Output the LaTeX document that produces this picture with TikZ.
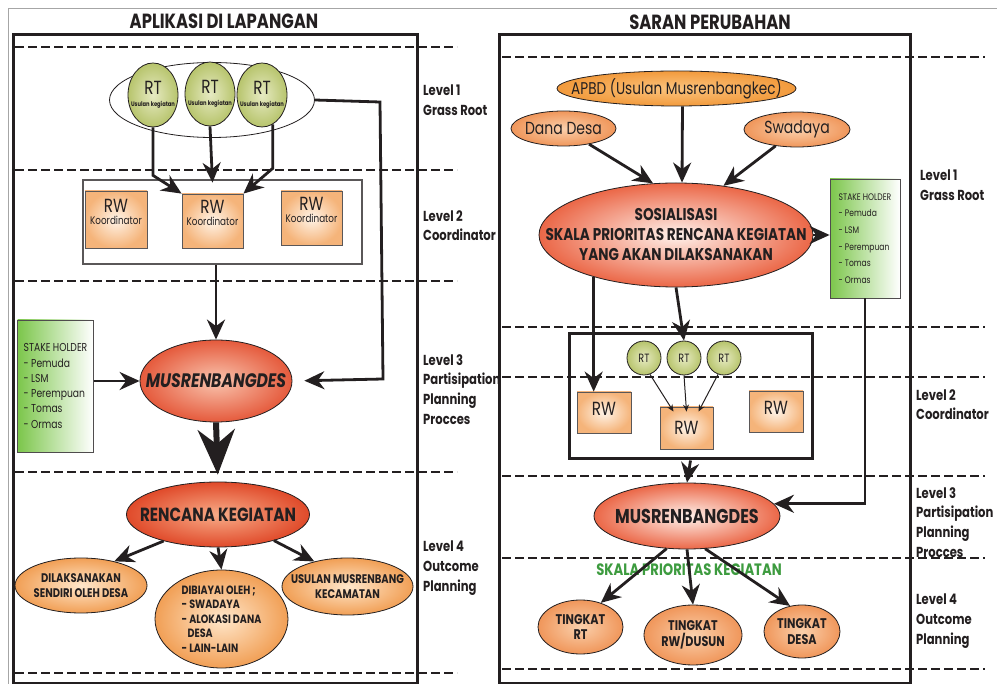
\documentclass[tikz,border=0pt]{standalone}
\usepackage{fontspec}
\setmainfont[FakeStretch=0.8]{Poppins}
\usepackage{xcolor}
\usetikzlibrary{arrows.meta,shapes.geometric}
\definecolor{inkk}{HTML}{231F20}
\definecolor{rtin}{HTML}{E6EAC2}
\definecolor{rtout}{HTML}{B7C46C}
\definecolor{rwin}{HTML}{FFF4E8}
\definecolor{rwout}{HTML}{F5B47A}
\definecolor{musin}{HTML}{F9C4AE}
\definecolor{musout}{HTML}{E55A3C}
\definecolor{rencin}{HTML}{F8AC88}
\definecolor{rencout}{HTML}{E04A2A}
\definecolor{sosin}{HTML}{FFF2EC}
\definecolor{sosout}{HTML}{EB6747}
\definecolor{orgin}{HTML}{FFE7CB}
\definecolor{orgout}{HTML}{F19F55}
\definecolor{apbdin}{HTML}{FBC47E}
\definecolor{apbdout}{HTML}{F29A3C}
\definecolor{tkin}{HTML}{FAD0AC}
\definecolor{tkout}{HTML}{F0965A}
\definecolor{stkgreen}{HTML}{7CC64B}
\definecolor{skalagreen}{HTML}{3D9B3F}

\begin{document}
\begin{tikzpicture}[x=1pt,y=-1pt,>={Stealth[length=20pt,width=18pt]},
  panelframe/.style={draw=inkk,line width=3pt},
  levelguide/.style={draw=inkk,line width=1.4pt,dash pattern=on 9pt off 4pt},
  arr/.style={->,draw=inkk,line width=2.8pt},
  thinarr/.style={-{Stealth[length=7pt,width=6pt]},draw=inkk,line width=1pt},
  bigarr/.style={-{Stealth[length=45pt,width=37pt]},draw=inkk,line width=6pt},
  paneltitle/.style={text=inkk,font=\bfseries\fontsize{20.5}{22}\selectfont},
  lvl/.style={anchor=north west,inner sep=0pt,align=left,text=inkk,font=\bfseries\fontsize{14.5}{19.7}\selectfont},
  ovalnode/.style={ellipse,draw=inkk,line width=0.8pt,inner sep=0pt,align=center,text=inkk},
  rtball/.style={ovalnode,inner color=rtin,outer color=rtout},
  rwcard/.style={rectangle,draw=inkk!75,line width=0.8pt,inner sep=0pt,align=center,text=inkk,inner color=rwin,outer color=rwout},
  stakebox/.style={rectangle,draw=inkk!80,line width=0.8pt,inner xsep=6pt,align=left,text=inkk,left color=stkgreen,right color=white}]
  \useasboundingbox (0,0) rectangle (997,684);
  \draw[gray!70,line width=0.8pt] (997,8) -- (8,8) -- (8,684);
  \draw[panelframe] (13,35) rectangle (417,683);
  \draw[panelframe] (499,35) rectangle (910,683);
  \draw[levelguide] (15,47) -- (457,47);
  \draw[levelguide] (15,170) -- (457,170);
  \draw[levelguide] (15,281) -- (457,281);
  \draw[levelguide] (15,472) -- (457,472);
  \draw[levelguide] (15,673) -- (457,673);
  \draw[levelguide] (502,57) -- (985,57);
  \draw[levelguide] (502,327) -- (985,327);
  \draw[levelguide] (502,377) -- (985,377);
  \draw[levelguide] (502,476) -- (985,476);
  \draw[levelguide] (502,558) -- (985,558);
  \draw[levelguide] (502,669) -- (985,669);

  \node[paneltitle] (titleL) at (224,21) {APLIKASI DI LAPANGAN};
  \node[paneltitle] (titleR) at (710,22) {SARAN PERUBAHAN};

  \node[lvl] (lv1L) at (423,85) {Level 1\\Grass Root};
  \node[lvl] (lv2L) at (423,210) {Level 2\\Coordinator};
  \node[lvl] (lv3L) at (423,354) {Level 3\\Partisipation\\Planning\\Procces};
  \node[lvl] (lv4L) at (423,541) {Level 4\\Outcome\\Planning};
  \node[lvl] (lv1R) at (920,170) {Level 1\\Grass Root};
  \node[lvl] (lv2R) at (916,389) {Level 2\\Coordinator};
  \node[lvl] (lv3R) at (916,487) {Level 3\\Partisipation\\Planning\\Procces};
  \node[lvl] (lv4R) at (916,594) {Level 4\\Outcome\\Planning};

  \node[ovalnode,fill=white,minimum width=205pt,minimum height=75pt] (rtgroup) at (212,100) {};
  \node[rtball,inner xsep=-6pt,minimum width=50pt,minimum height=64pt] (rtA) at (153,95) {\fontsize{19}{16}\selectfont RT\\\bfseries\fontsize{6.5}{7}\selectfont Usulan kegiatan};
  \node[rtball,inner xsep=-6pt,minimum width=50pt,minimum height=64pt] (rtB) at (210,94) {\fontsize{19}{16}\selectfont RT\\\bfseries\fontsize{6.5}{7}\selectfont Usulan kegiatan};
  \node[rtball,inner xsep=-6pt,minimum width=50pt,minimum height=64pt] (rtC) at (262,95) {\fontsize{19}{16}\selectfont RT\\\bfseries\fontsize{6.5}{7}\selectfont Usulan kegiatan};
  \node[draw=inkk!75,line width=1.2pt,minimum width=279pt,minimum height=84pt] (koord) at (222.5,222) {};
  \node[rwcard,minimum width=62pt,minimum height=57pt,text depth=16pt] (rwA) at (116,219.5) {\fontsize{19}{16}\selectfont RW\\\fontsize{11}{12}\selectfont Koordinator};
  \node[rwcard,minimum width=61pt,minimum height=54pt,text depth=16pt] (rwB) at (212.5,221) {\fontsize{19}{16}\selectfont RW\\\fontsize{11}{12}\selectfont Koordinator};
  \node[rwcard,minimum width=61pt,minimum height=54pt,text depth=16pt] (rwC) at (311.5,218) {\fontsize{19}{16}\selectfont RW\\\fontsize{11}{12}\selectfont Koordinator};
  \node[ovalnode,inner xsep=-21pt,inner color=musin,outer color=musout,minimum width=152pt,minimum height=82pt,font=\bfseries\itshape\fontsize{19.5}{20}\selectfont] (musL) at (216,381) {MUSRENBANGDES};
  \node[stakebox,minimum width=73pt,minimum height=132pt,font=\fontsize{11.5}{15.3}\selectfont] (stakeL) at (55.5,386) {STAKE HOLDER\\- Pemuda\\- LSM\\- Perempuan\\- Tomas\\- Ormas};
  \node[ovalnode,inner xsep=-14pt,inner color=rencin,outer color=rencout,minimum width=183pt,minimum height=65pt,font=\bfseries\fontsize{19}{20}\selectfont] (renc) at (218,514.5) {RENCANA KEGIATAN};
  \node[ovalnode,inner xsep=-5pt,inner color=orgin,outer color=orgout,minimum width=132pt,minimum height=55pt,font=\bfseries\fontsize{12.5}{15}\selectfont] (dil) at (81,585.5) {DILAKSANAKAN\\SENDIRI OLEH DESA};
  \node[ovalnode,inner color=orgin,outer color=orgout,minimum width=133pt,minimum height=98pt,align=left,font=\bfseries\fontsize{12}{14.5}\selectfont] (dib) at (221.5,619) {DIBIAYAI OLEH ;\\- SWADAYA\\- ALOKASI DANA\\\hspace*{6pt}DESA\\- LAIN-LAIN};
  \node[ovalnode,inner xsep=-15pt,inner color=orgin,outer color=orgout,minimum width=131pt,minimum height=57pt,font=\bfseries\fontsize{12.5}{15}\selectfont] (usu) at (347.5,586.5) {USULAN MUSRENBANG\\KECAMATAN};

  \node[ovalnode,inner xsep=-21pt,inner color=apbdin,outer color=apbdout,minimum width=239pt,minimum height=35pt,font=\fontsize{17}{18}\selectfont] (apbd) at (676.5,88.5) {APBD (Usulan Musrenbangkec)};
  \node[ovalnode,inner xsep=-2pt,inner color=tkin,outer color=tkout,minimum width=105pt,minimum height=35pt,font=\fontsize{17.5}{18}\selectfont] (dana) at (563.5,128.5) {Dana Desa};
  \node[ovalnode,inner xsep=-2pt,inner color=tkin,outer color=tkout,minimum width=106pt,minimum height=35pt,font=\fontsize{17.5}{18}\selectfont] (swa) at (797,129.5) {Swadaya};
  \node[ovalnode,inner xsep=-34pt,inner color=sosin,outer color=sosout,minimum width=274pt,minimum height=104pt,font=\bfseries\fontsize{17}{20}\selectfont] (sos) at (676,235) {SOSIALISASI\\SKALA PRIORITAS RENCANA KEGIATAN\\YANG AKAN DILAKSANAKAN};
  \node[stakebox,minimum width=70pt,minimum height=119pt,font=\fontsize{9.5}{16.7}\selectfont] (stakeR) at (865,238.5) {STAKE HOLDER\\- Pemuda\\- LSM\\- Perempuan\\- Tomas\\- Ormas};
  \node[draw=inkk,line width=3pt,minimum width=243pt,minimum height=125pt] (rbox) at (690.5,396.5) {};
  \node[rtball,minimum size=34pt,font=\fontsize{12}{12}\selectfont] (rtR1) at (644,358) {RT};
  \node[rtball,minimum size=34pt,font=\fontsize{12}{12}\selectfont] (rtR2) at (684,358) {RT};
  \node[rtball,minimum size=34pt,font=\fontsize{12}{12}\selectfont] (rtR3) at (724,358) {RT};
  \node[rwcard,minimum width=54pt,minimum height=41pt,text depth=8pt,font=\fontsize{19}{18}\selectfont] (rwR1) at (604,412.5) {RW};
  \node[rwcard,minimum width=53pt,minimum height=42pt,font=\fontsize{19}{18}\selectfont] (rwR2) at (686.5,428) {RW};
  \node[rwcard,minimum width=54pt,minimum height=41pt,text depth=8pt,font=\fontsize{19}{18}\selectfont] (rwR3) at (776,411.5) {RW};
  \node[ovalnode,inner xsep=-11pt,inner color=sosin,outer color=sosout,minimum width=186pt,minimum height=66pt,font=\bfseries\fontsize{20}{20}\selectfont] (musR) at (687,516) {MUSRENBANGDES};
  \node[text=skalagreen,font=\bfseries\fontsize{16.5}{16}\selectfont] (skala) at (689,570) {SKALA PRIORITAS KEGIATAN};
  \node[ovalnode,inner color=tkin,outer color=tkout,minimum width=85pt,minimum height=54pt,font=\bfseries\fontsize{14}{15.5}\selectfont] (tRT) at (580.5,627) {TINGKAT\\RT};
  \node[ovalnode,inner color=tkin,outer color=tkout,minimum width=98pt,minimum height=60pt,font=\bfseries\fontsize{14}{15.5}\selectfont] (tRW) at (693,635) {TINGKAT\\RW/DUSUN};
  \node[ovalnode,inner color=tkin,outer color=tkout,minimum width=76pt,minimum height=53pt,font=\bfseries\fontsize{14}{15.5}\selectfont] (tDESA) at (802,631.5) {TINGKAT\\DESA};

  \coordinate (jogA) at (380,102);
  \coordinate (jogB) at (383,379);
  \draw[arr] (rtA.south) -- ++(0,48) -- (rwB.north west);
  \draw[arr] (rtB.south) -- ([yshift=11pt]rwB.north);
  \draw[arr] (rtC.-70) -- ++(0,44) -- (rwB.north east);
  \draw[arr,shorten >=12pt] (rtgroup.east) -- (jogA) -- (jogB) -- (musL.east);
  \draw[arr] (koord.south -| musL.north) -- (musL.north);
  \draw[arr] (stakeL.east |- musL.west) -- (musL.west);
  \draw[bigarr,shorten >=7pt] (musL.south) -- (renc.north);
  \draw[arr] (renc.206) -- (dil.36);
  \draw[arr] (renc.south) -- (dib.north);
  \draw[arr] (renc.-25) -- (usu.143);

  \draw[arr] ([xshift=6pt]apbd.south) -- ([xshift=6pt]sos.north);
  \draw[arr] (dana) -- (sos.114);
  \draw[arr] (swa) -- (sos.46);
  \draw[arr] (sos.east) -- (stakeR.west |- sos.east);
  \draw[arr] (stakeR.south) |- (musR.8);
  \draw[arr] (sos.207) -- (sos.207 |- rwR1.north);
  \draw[arr] (sos.south) -- (rtR2.north);
  \draw[thinarr] (rtR1.-70) -- ([xshift=-13pt,yshift=-5pt]rwR2.north);
  \draw[thinarr] (rtR2.south) -- ([yshift=-5pt]rwR2.north);
  \draw[thinarr] (rtR3.-110) -- ([xshift=12pt,yshift=-5pt]rwR2.north);
  \draw[arr] (rbox.south) -- (musR.north);
  \draw[arr] (musR.238) -- (tRT.50);
  \draw[arr] (musR.south) -- (tRW.north);
  \draw[arr] (musR.-61) -- (tDESA.115);
\end{tikzpicture}
\end{document}
